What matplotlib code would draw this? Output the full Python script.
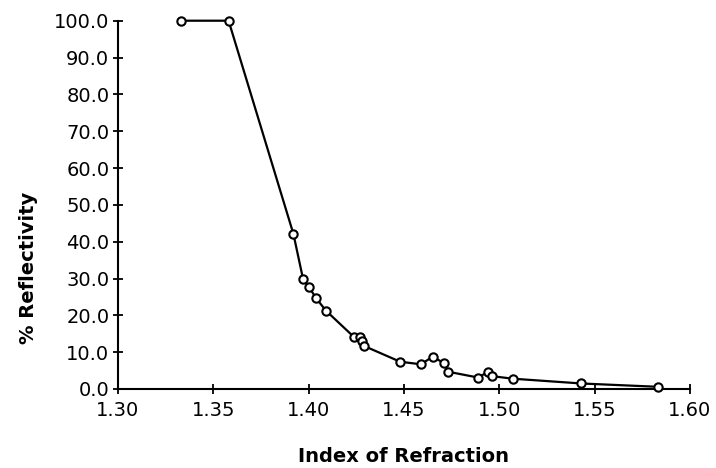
import matplotlib
matplotlib.use("Agg")
import matplotlib.pyplot as plt
from matplotlib.ticker import FormatStrFormatter

# Data
refractive_index = [1.333, 1.358, 1.392, 1.397, 1.400, 1.404, 1.409,
                    1.424, 1.427, 1.428, 1.429, 1.448, 1.459, 1.465,
                    1.471, 1.473, 1.489, 1.494, 1.496, 1.507, 1.543, 1.583]
reflectivity = [100.0, 100.0, 42.1, 30.0, 27.8, 24.6, 21.3,
                14.0, 14.1, 13.0, 11.7, 7.4, 6.7, 8.8,
                7.0, 4.7, 3.1, 4.7, 3.5, 2.8, 1.5, 0.6]
x_ticks = [1.30, 1.35, 1.40, 1.45, 1.50, 1.55, 1.60]
y_ticks = [0, 10, 20, 30, 40, 50, 60, 70, 80, 90, 100]

plt.rcParams['font.family'] = ['DejaVu Sans']

fig = plt.figure(figsize=(7.16, 4.68), dpi=100)
ax = fig.add_axes([118/716, 1 - 389/468, 572/716, (389 - 20.7)/468])

ax.plot(refractive_index, reflectivity, color='black', lw=1.6,
        marker='o', markersize=6, markerfacecolor='white',
        markeredgecolor='black', markeredgewidth=1.5, clip_on=False, zorder=3)

ax.set_xlim(1.30, 1.60)
ax.set_ylim(0, 100)
ax.set_xticks(x_ticks)
ax.set_yticks(y_ticks)
ax.xaxis.set_major_formatter(FormatStrFormatter('%.2f'))
ax.yaxis.set_major_formatter(FormatStrFormatter('%.1f'))

for side in ['top', 'right']:
    ax.spines[side].set_visible(False)
for side in ['left', 'bottom']:
    ax.spines[side].set_linewidth(1.5)
    ax.spines[side].set_color('black')

ax.tick_params(axis='both', direction='inout', length=6.5, width=1.3,
               labelsize=14, colors='black')
ax.tick_params(axis='x', pad=5.5)
ax.tick_params(axis='y', pad=3)

ax.set_xlabel('Index of Refraction', fontsize=14, fontweight='bold')
ax.xaxis.label.set_va('baseline')
ax.xaxis.set_label_coords(0.5, (389 - 462) / 368.3)

ax.set_ylabel('% Reflectivity', fontsize=14, fontweight='bold')
ax.yaxis.label.set_va('center')
ax.yaxis.set_label_coords((29 - 118) / 572, (389 - 268) / 368.3)

fig.savefig('out.png', dpi=100)
